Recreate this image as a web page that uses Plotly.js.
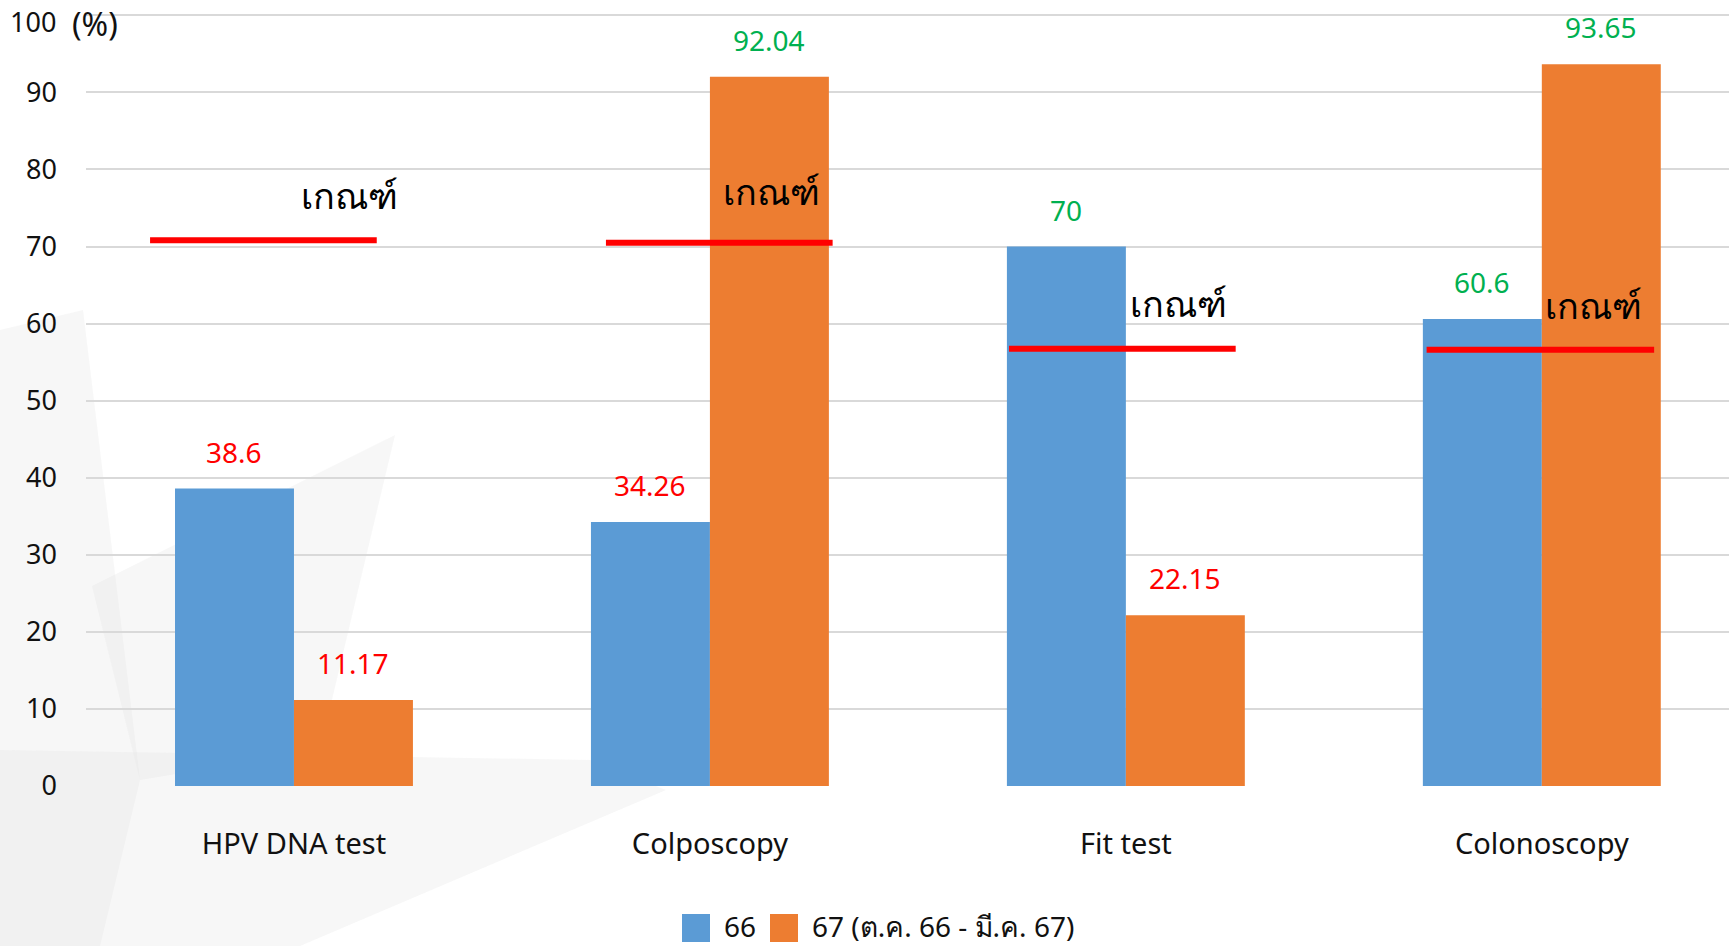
<!DOCTYPE html>
<html>
<head>
<meta charset="utf-8">
<script src="https://cdn.plot.ly/plotly-3.0.1.min.js"></script>
<style>html,body{margin:0;padding:0;background:#fff;}#chart{width:1729px;height:946px;}</style>
</head>
<body>
<div id="chart"></div>
<script>
const categories = ['HPV DNA test', 'Colposcopy', 'Fit test', 'Colonoscopy'];
const seriesNames = ['66', '67 (ต.ค. 66 - มี.ค. 67)'];
const values66 = [38.6, 34.26, 70, 60.6];
const values67 = [11.17, 92.04, 22.15, 93.65];
const labels66 = ['38.6', '34.26', '70', '60.6'];
const labels67 = ['11.17', '92.04', '22.15', '93.65'];
const criteria = [70.8, 70.5, 56.75, 56.6];
const criterionText = 'เกณฑ์';
const yTickVals = [0, 10, 20, 30, 40, 50, 60, 70, 80, 90, 100];
const yTickText = ['0', '10', '20', '30', '40', '50', '60', '70', '80', '90', '100'];
const yUnit = '(%)';

const FONT = 'Noto Sans, Open Sans, DejaVu Sans, sans-serif';
const BLUE = '#5B9BD5', ORANGE = '#ED7D31', RED = '#FF0000', GREEN = '#00B050';
const W = 1729, H = 946;
const M = {l: 86, r: 0, t: 13, b: 160};
const PW = W - M.l - M.r, PH = H - M.t - M.b;
function px(x) { return (x - M.l) / PW; }
function py(y) { return (H - M.b - y) / PH; }
function poly(pts) {
  return 'M ' + pts.map(p => px(p[0]) + ',' + py(p[1])).join(' L ') + ' Z';
}

// threshold line extents (category units, relative to category centre) and label offsets
const lineExt = [[-0.346, 0.199], [-0.25, 0.295], [-0.281, 0.264], [-0.277, 0.27]];
const critLabelDx = [0.133, 0.148, 0.127, 0.125];
const critLabelShift = [45, 51, 45, 44];
const half = 0.143;

const traces = [
  {type: 'bar', name: seriesNames[0], x: categories, y: values66, marker: {color: BLUE}, hoverinfo: 'y', showlegend: false},
  {type: 'bar', name: seriesNames[1], x: categories, y: values67, marker: {color: ORANGE}, hoverinfo: 'y', showlegend: false}
];

const shapes = [];
// faint background decoration
const bg = 'rgba(225,225,225,0.28)';
[
  [[0, 330], [83, 310], [140, 780], [100, 946], [0, 946]],
  [[92, 586], [395, 435], [320, 750], [140, 780]],
  [[0, 750], [590, 760], [666, 790], [300, 946], [0, 946]]
].forEach(p => shapes.push({type: 'path', xref: 'paper', yref: 'paper', path: poly(p), fillcolor: bg, line: {width: 0}, layer: 'below'}));

criteria.forEach((c, i) => {
  shapes.push({type: 'line', xref: 'x', yref: 'y', x0: i + lineExt[i][0], x1: i + lineExt[i][1], y0: c, y1: c,
    line: {color: RED, width: 6}, layer: 'above'});
});

const annotations = [];
categories.forEach((cat, i) => {
  annotations.push({x: i - half, y: values66[i], xref: 'x', yref: 'y', text: labels66[i], showarrow: false,
    yshift: 37, yanchor: 'middle', font: {family: FONT, size: 28, color: values66[i] >= criteria[i] ? GREEN : RED}});
  annotations.push({x: i + half, y: values67[i], xref: 'x', yref: 'y', text: labels67[i], showarrow: false,
    yshift: 37, yanchor: 'middle', font: {family: FONT, size: 28, color: values67[i] >= criteria[i] ? GREEN : RED}});
  annotations.push({x: i + critLabelDx[i], y: criteria[i], xref: 'x', yref: 'y', text: criterionText, showarrow: false,
    yshift: critLabelShift[i], yanchor: 'middle', font: {family: FONT, size: 36, color: '#000'}});
});
// top tick label (Plotly drops the edge label), placed like the other tick labels
const lastIdx = yTickVals.length - 1;
annotations.push({xref: 'paper', yref: 'y', x: px(58), y: yTickVals[lastIdx], xanchor: 'right', yanchor: 'middle',
  text: yTickText[lastIdx], showarrow: false, yshift: -6, font: {family: FONT, size: 27, color: '#111'}});
annotations.push({xref: 'paper', yref: 'paper', x: px(70), y: py(24), xanchor: 'left', yanchor: 'middle',
  text: yUnit, showarrow: false, font: {family: FONT, size: 32, color: '#111'}});

// legend drawn manually with the series colours
const legendItems = [
  {sq: [682, 914], tx: 722, text: seriesNames[0], color: BLUE},
  {sq: [770, 914], tx: 810, text: seriesNames[1], color: ORANGE}
];
legendItems.forEach(it => {
  shapes.push({type: 'rect', xref: 'paper', yref: 'paper', x0: px(it.sq[0]), x1: px(it.sq[0] + 28),
    y0: py(it.sq[1] + 28), y1: py(it.sq[1]), fillcolor: it.color, line: {width: 0}});
  annotations.push({xref: 'paper', yref: 'paper', x: px(it.tx), y: py(926), xanchor: 'left', yanchor: 'middle',
    text: it.text, showarrow: false, font: {family: FONT, size: 28, color: '#111'}});
});

const layout = {
  width: W, height: H,
  margin: M,
  paper_bgcolor: '#ffffff',
  plot_bgcolor: 'rgba(0,0,0,0)',
  barmode: 'group',
  bargap: 0.428,
  bargroupgap: 0,
  showlegend: false,
  font: {family: FONT, size: 26, color: '#111'},
  xaxis: {type: 'category', range: [-0.5, 3.45], showgrid: false, zeroline: false, showline: false,
    ticks: '', ticklabelstandoff: 38, tickfont: {family: FONT, size: 29, color: '#111'}, fixedrange: true},
  yaxis: {range: [0, 100.3], tickvals: yTickVals, ticktext: yTickText.map((t, i) => i === lastIdx ? '' : t), showgrid: true,
    gridcolor: '#D9D9D9', gridwidth: 2, zeroline: false, showline: false, ticks: '',
    ticklabelstandoff: 28, tickfont: {family: FONT, size: 27, color: '#111'}, fixedrange: true},
  shapes: shapes,
  annotations: annotations
};

Plotly.newPlot('chart', traces, layout, {displayModeBar: false, staticPlot: true});
</script>
</body>
</html>
